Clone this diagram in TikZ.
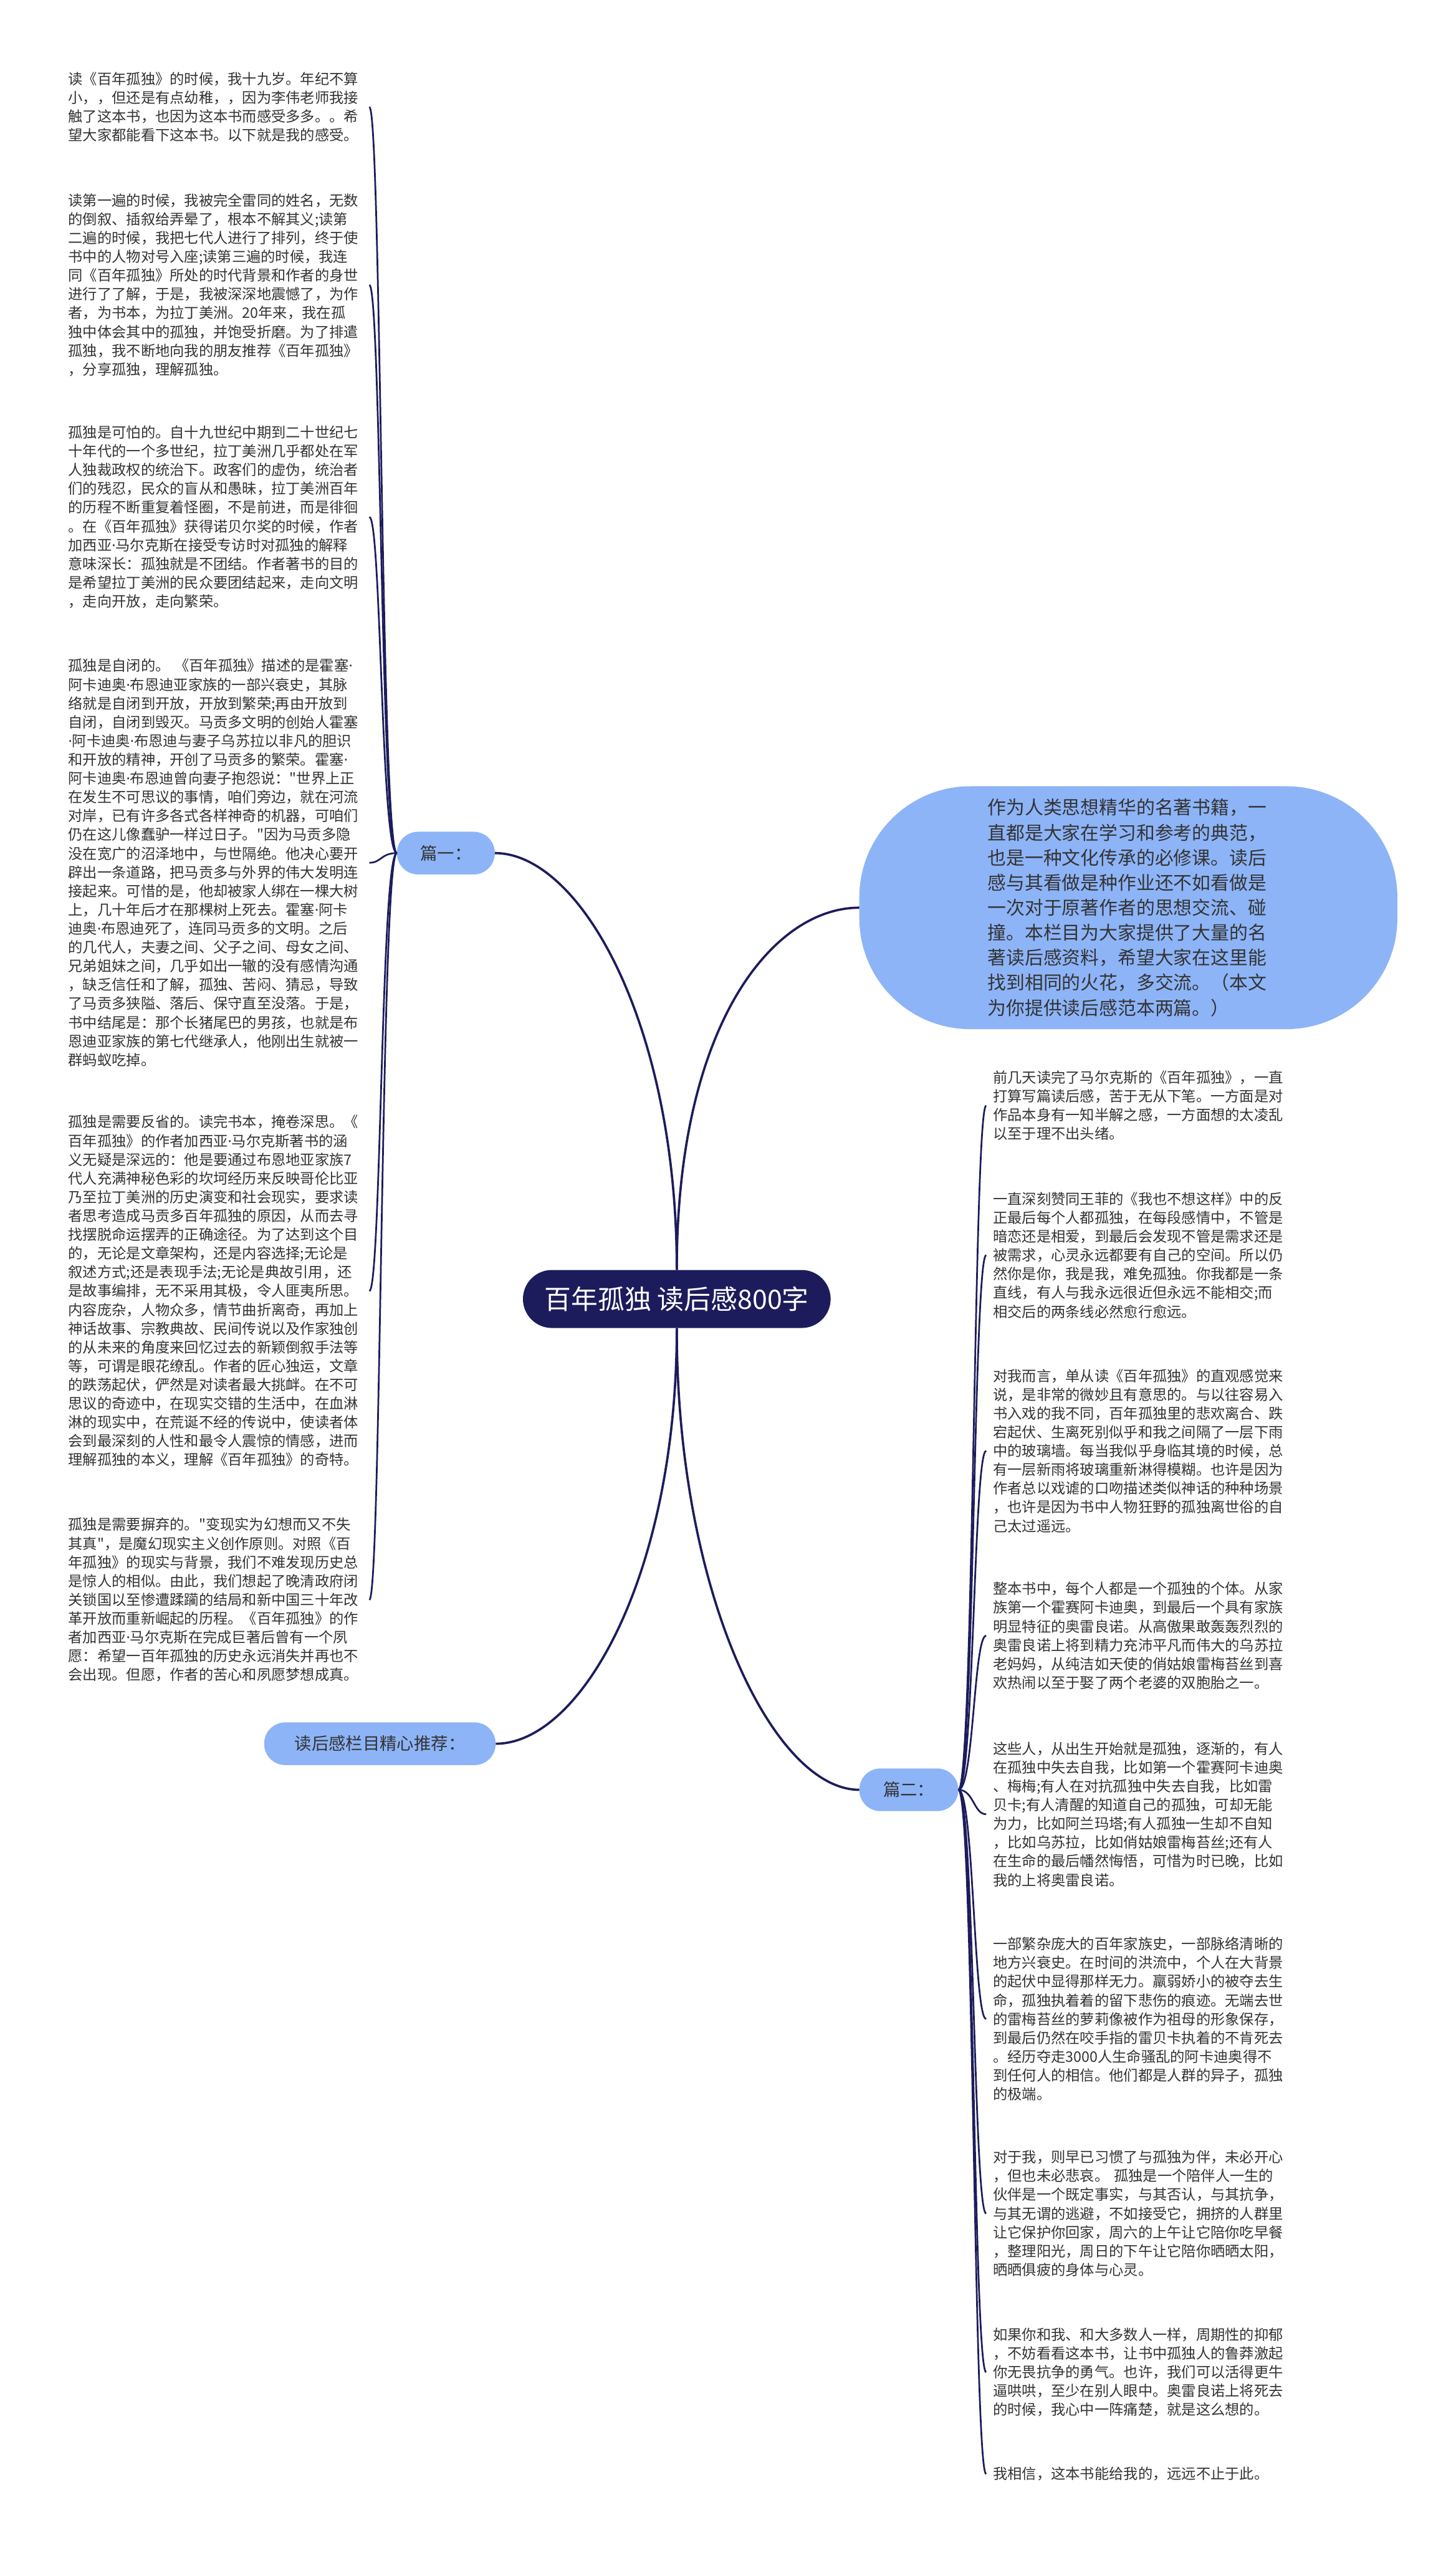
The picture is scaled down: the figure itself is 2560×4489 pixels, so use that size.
\documentclass[tikz,border=0pt]{standalone}
\usepackage{fontspec}
\newfontfamily\cjk{Noto Sans CJK SC}
\newfontfamily\latinfont{Noto Sans}
\newcommand\mdot{{\latinfont ·}}
\definecolor{mapnavy}{HTML}{1C1C5C}
\definecolor{mapblue}{HTML}{8DB4F7}
\definecolor{maptext}{HTML}{333333}
\begin{document}
\begin{tikzpicture}[x=1pt,y=-1pt,
    para/.style={anchor=west,align=left,text width=517pt,inner xsep=12pt,inner ysep=0pt,text=maptext,font=\cjk\fontsize{25.5}{33}\selectfont},
    branch/.style={fill=mapblue,rounded corners=37pt,minimum height=75pt,inner sep=0pt,text=maptext,font=\cjk\fontsize{30}{36}\selectfont},
    link/.style={draw=mapnavy,line width=4pt},
    sublink/.style={draw=mapnavy,line width=3pt}]
        \fill[white](0,0)rectangle(2560,4489);
        \useasboundingbox(0,0)rectangle(2560,4489);
        \node[fill=mapnavy,rounded corners=51pt,minimum width=541pt,minimum height=102pt,inner sep=0pt,text=white,font=\cjk\fontsize{47}{50}\selectfont](root)at(1190,2284){百年孤独 读后感800字};
        \node[fill=mapblue,rounded corners=195pt,minimum width=946pt,minimum height=427pt,inner sep=0pt,text width=495pt,align=left,text=maptext,font=\cjk\fontsize{32.7}{44}\selectfont](sum)at(1984,1596){作为人类思想精华的名著书籍，一\\直都是大家在学习和参考的典范，\\也是一种文化传承的必修课。读后\\感与其看做是种作业还不如看做是\\一次对于原著作者的思想交流、碰\\撞。本栏目为大家提供了大量的名\\著读后感资料，希望大家在这里能\\找到相同的火花，多交流。（本文\\为你提供读后感范本两篇。）};
        \node[branch,minimum width=172pt](p1)at(784,1500){篇一：};
        \node[branch,minimum width=407pt](tj)at(668,3066){读后感栏目精心推荐：};
        \node[branch,minimum width=174pt](p2)at(1598,3147){篇二：};

        \node[para](l1)at(108,188){读《百年孤独》的时候，我十九岁。年纪不算\\小，，但还是有点幼稚，，因为李伟老师我接\\触了这本书，也因为这本书而感受多多。。希\\望大家都能看下这本书。以下就是我的感受。};
        \node[para](l2)at(108,501){读第一遍的时候，我被完全雷同的姓名，无数\\的倒叙、插叙给弄晕了，根本不解其义;读第\\二遍的时候，我把七代人进行了排列，终于使\\书中的人物对号入座;读第三遍的时候，我连\\同《百年孤独》所处的时代背景和作者的身世\\进行了了解，于是，我被深深地震憾了，为作\\者，为书本，为拉丁美洲。20年来，我在孤\\独中体会其中的孤独，并饱受折磨。为了排遣\\孤独，我不断地向我的朋友推荐《百年孤独》\\，分享孤独，理解孤独。};
        \node[para](l3)at(108,909){孤独是可怕的。自十九世纪中期到二十世纪七\\十年代的一个多世纪，拉丁美洲几乎都处在军\\人独裁政权的统治下。政客们的虚伪，统治者\\们的残忍，民众的盲从和愚昧，拉丁美洲百年\\的历程不断重复着怪圈，不是前进，而是徘徊\\。在《百年孤独》获得诺贝尔奖的时候，作者\\加西亚\mdot{}马尔克斯在接受专访时对孤独的解释\\意味深长：孤独就是不团结。作者著书的目的\\是希望拉丁美洲的民众要团结起来，走向文明\\，走向开放，走向繁荣。};
        \node[para](l4)at(108,1517){孤独是自闭的。~《百年孤独》描述的是霍塞\mdot{}\\阿卡迪奥\mdot{}布恩迪亚家族的一部兴衰史，其脉\\络就是自闭到开放，开放到繁荣;再由开放到\\自闭，自闭到毁灭。马贡多文明的创始人霍塞\\\mdot{}阿卡迪奥\mdot{}布恩迪与妻子乌苏拉以非凡的胆识\\和开放的精神，开创了马贡多的繁荣。霍塞\mdot{}\\阿卡迪奥\mdot{}布恩迪曾向妻子抱怨说："世界上正\\在发生不可思议的事情，咱们旁边，就在河流\\对岸，已有许多各式各样神奇的机器，可咱们\\仍在这儿像蠢驴一样过日子。"因为马贡多隐\\没在宽广的沼泽地中，与世隔绝。他决心要开\\辟出一条道路，把马贡多与外界的伟大发明连\\接起来。可惜的是，他却被家人绑在一棵大树\\上，几十年后才在那棵树上死去。霍塞\mdot{}阿卡\\迪奥\mdot{}布恩迪死了，连同马贡多的文明。之后\\的几代人，夫妻之间、父子之间、母女之间、\\兄弟姐妹之间，几乎如出一辙的没有感情沟通\\，缺乏信任和了解，孤独、苦闷、猜忌，导致\\了马贡多狭隘、落后、保守直至没落。于是，\\书中结尾是：那个长猪尾巴的男孩，也就是布\\恩迪亚家族的第七代继承人，他刚出生就被一\\群蚂蚁吃掉。};
        \node[para](l5)at(108,2270){孤独是需要反省的。读完书本，掩卷深思。《\\百年孤独》的作者加西亚\mdot{}马尔克斯著书的涵\\义无疑是深远的：他是要通过布恩地亚家族7\\代人充满神秘色彩的坎坷经历来反映哥伦比亚\\乃至拉丁美洲的历史演变和社会现实，要求读\\者思考造成马贡多百年孤独的原因，从而去寻\\找摆脱命运摆弄的正确途径。为了达到这个目\\的，无论是文章架构，还是内容选择;无论是\\叙述方式;还是表现手法;无论是典故引用，还\\是故事编排，无不采用其极，令人匪夷所思。\\内容庞杂，人物众多，情节曲折离奇，再加上\\神话故事、宗教典故、民间传说以及作家独创\\的从未来的角度来回忆过去的新颖倒叙手法等\\等，可谓是眼花缭乱。作者的匠心独运，文章\\的跌荡起伏，俨然是对读者最大挑衅。在不可\\思议的奇迹中，在现实交错的生活中，在血淋\\淋的现实中，在荒诞不经的传说中，使读者体\\会到最深刻的人性和最令人震惊的情感，进而\\理解孤独的本义，理解《百年孤独》的奇特。};
        \node[para](l6)at(108,2813){孤独是需要摒弃的。"变现实为幻想而又不失\\其真"，是魔幻现实主义创作原则。对照《百\\年孤独》的现实与背景，我们不难发现历史总\\是惊人的相似。由此，我们想起了晚清政府闭\\关锁国以至惨遭蹂躏的结局和新中国三十年改\\革开放而重新崛起的历程。《百年孤独》的作\\者加西亚\mdot{}马尔克斯在完成巨著后曾有一个夙\\愿：希望一百年孤独的历史永远消失并再也不\\会出现。但愿，作者的苦心和夙愿梦想成真。};

        \node[para](r1)at(1734,1944){前几天读完了马尔克斯的《百年孤独》，一直\\打算写篇读后感，苦于无从下笔。一方面是对\\作品本身有一知半解之感，一方面想的太凌乱\\以至于理不出头绪。};
        \node[para](r2)at(1734,2207){一直深刻赞同王菲的《我也不想这样》中的反\\正最后每个人都孤独，在每段感情中，不管是\\暗恋还是相爱，到最后会发现不管是需求还是\\被需求，心灵永远都要有自己的空间。所以仍\\然你是你，我是我，难免孤独。你我都是一条\\直线，有人与我永远很近但永远不能相交;而\\相交后的两条线必然愈行愈远。};
        \node[para](r3)at(1734,2551){对我而言，单从读《百年孤独》的直观感觉来\\说，是非常的微妙且有意思的。与以往容易入\\书入戏的我不同，百年孤独里的悲欢离合、跌\\宕起伏、生离死别似乎和我之间隔了一层下雨\\中的玻璃墙。每当我似乎身临其境的时候，总\\有一层新雨将玻璃重新淋得模糊。也许是因为\\作者总以戏谑的口吻描述类似神话的种种场景\\，也许是因为书中人物狂野的孤独离世俗的自\\己太过遥远。};
        \node[para](r4)at(1734,2876){整本书中，每个人都是一个孤独的个体。从家\\族第一个霍赛阿卡迪奥，到最后一个具有家族\\明显特征的奥雷良诺。从高傲果敢轰轰烈烈的\\奥雷良诺上将到精力充沛平凡而伟大的乌苏拉\\老妈妈，从纯洁如天使的俏姑娘雷梅苔丝到喜\\欢热闹以至于娶了两个老婆的双胞胎之一。};
        \node[para](r5)at(1734,3190){这些人，从出生开始就是孤独，逐渐的，有人\\在孤独中失去自我，比如第一个霍赛阿卡迪奥\\、梅梅;有人在对抗孤独中失去自我，比如雷\\贝卡;有人清醒的知道自己的孤独，可却无能\\为力，比如阿兰玛塔;有人孤独一生却不自知\\，比如乌苏拉，比如俏姑娘雷梅苔丝;还有人\\在生命的最后幡然悔悟，可惜为时已晚，比如\\我的上将奥雷良诺。};
        \node[para](r6)at(1734,3550){一部繁杂庞大的百年家族史，一部脉络清晰的\\地方兴衰史。在时间的洪流中，个人在大背景\\的起伏中显得那样无力。羸弱娇小的被夺去生\\命，孤独执着着的留下悲伤的痕迹。无端去世\\的雷梅苔丝的萝莉像被作为祖母的形象保存，\\到最后仍然在咬手指的雷贝卡执着的不肯死去\\。经历夺走3000人生命骚乱的阿卡迪奥得不\\到任何人的相信。他们都是人群的异子，孤独\\的极端。};
        \node[para](r7)at(1734,3892){对于我，则早已习惯了与孤独为伴，未必开心\\，但也未必悲哀。~孤独是一个陪伴人一生的\\伙伴是一个既定事实，与其否认，与其抗争，\\与其无谓的逃避，不如接受它，拥挤的人群里\\让它保护你回家，周六的上午让它陪你吃早餐\\，整理阳光，周日的下午让它陪你晒晒太阳，\\晒晒俱疲的身体与心灵。};
        \node[para](r8)at(1734,4171){如果你和我、和大多数人一样，周期性的抑郁\\，不妨看看这本书，让书中孤独人的鲁莽激起\\你无畏抗争的勇气。也许，我们可以活得更牛\\逼哄哄，至少在别人眼中。奥雷良诺上将死去\\的时候，我心中一阵痛楚，就是这么想的。};
        \node[para](r9)at(1734,4350){我相信，这本书能给我的，远远不止于此。};

        \draw[link](root.north)..controls+(0,-433)and+(150,0)..(p1.east);
        \draw[link](root.north)..controls+(0,-433)and+(-151,0)..(sum.west);
        \draw[link](root.south)..controls+(0,435)and+(150,0)..(tj.east);
        \draw[link](root.south)..controls+(0,465)and+(-151,0)..(p2.west);
        \foreach \n in {l1,l2,l3,l4,l5,l6} \draw[sublink](p1.west)..controls+(-28,0)and+(21,0)..(\n.east);
        \foreach \n in {r1,r2,r3,r4,r5,r6,r7,r8,r9} \draw[sublink](p2.east)..controls+(27,0)and+(-22,0)..(\n.west);
    \end{tikzpicture}
\end{document}
